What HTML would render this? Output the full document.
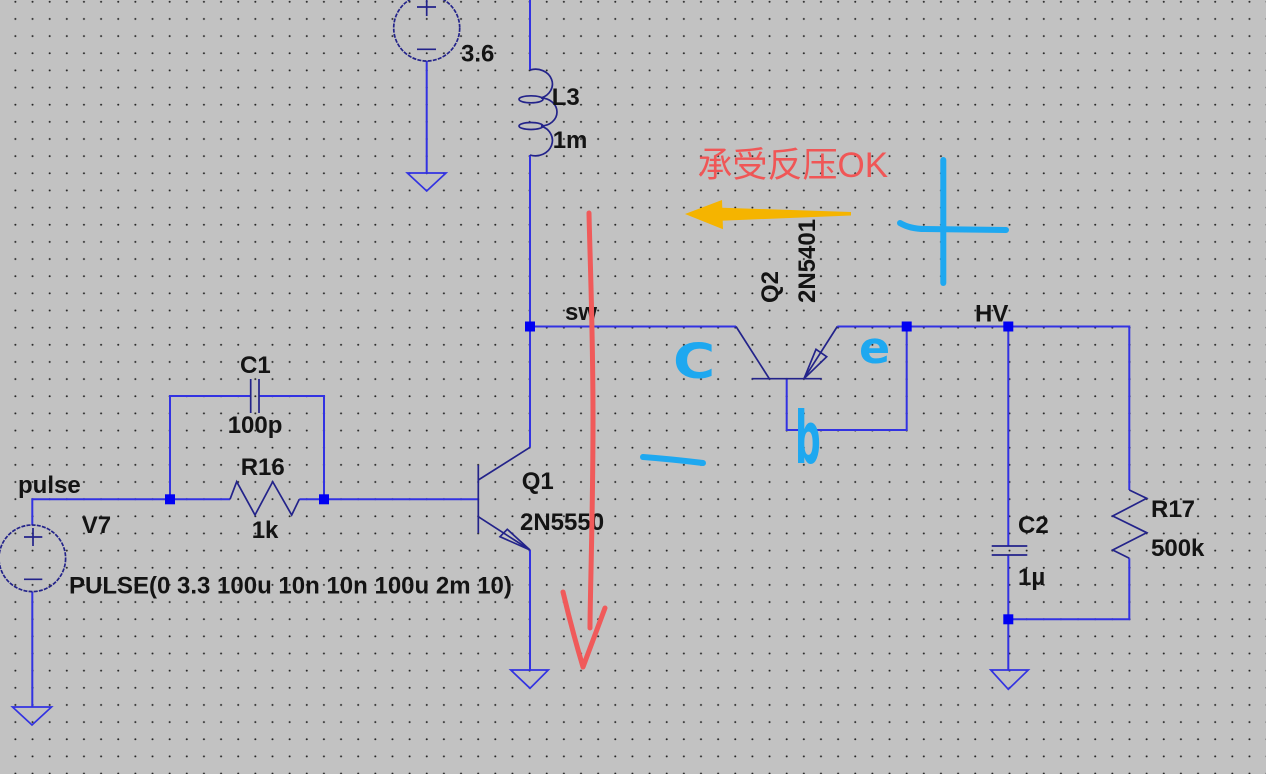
<!DOCTYPE html>
<html>
<head>
<meta charset="utf-8">
<style>
  html,body{margin:0;padding:0;background:#c2c2c2;}
  svg{display:block;}
  .lbl{font-family:"Liberation Sans",Arial,sans-serif;font-weight:bold;font-size:24px;fill:#141414;}
  .w{stroke:#3232e2;stroke-width:2;fill:none;}
  .c{stroke:#23238a;stroke-width:1.7;fill:none;}
  .g{stroke:#3232e2;stroke-width:1.7;fill:none;}
  .hand{font-family:"DejaVu Sans","Liberation Sans",sans-serif;font-weight:bold;fill:#1ea8f0;}
</style>
</head>
<body>
<svg width="1266" height="774" viewBox="0 0 1266 774" xmlns="http://www.w3.org/2000/svg">
  <defs>
    <pattern id="dots" patternUnits="userSpaceOnUse" x="6.83" y="-6.775" width="17.14" height="17.15">
      <circle cx="8.57" cy="8.575" r="1" fill="#262626"/>
    </pattern>
  </defs>
  <rect x="0" y="0" width="1266" height="774" fill="#c2c2c2"/>
  <rect x="0" y="0" width="1266" height="774" fill="url(#dots)"/>

  <!-- ===== Wires ===== -->
  <path class="w" d="M530,0 V70"/>
  <path class="w" d="M530,155 V447.3"/>
  <path class="w" d="M530,326.5 H736"/>
  <path class="w" d="M837.3,326.5 H1129.3 V490"/>
  <path class="w" d="M1129.3,558.3 V619.3 H1008.3"/>
  <path class="w" d="M1008.3,326.5 V546"/>
  <path class="w" d="M1008.3,555 V670"/>
  <path class="w" d="M786.7,378.7 V430 H906.7 V326.5"/>
  <path class="w" d="M530,550 V670"/>
  <path class="w" d="M426.7,61 V173"/>
  <path class="w" d="M32.3,525 V499.3 H230"/>
  <path class="w" d="M299.3,499.3 H478.3"/>
  <path class="w" d="M170,499.3 V396 H250.7"/>
  <path class="w" d="M259,396 H324 V499.3"/>
  <path class="w" d="M32.3,591.7 V707"/>

  <!-- ===== Inductor L3 ===== -->
  <path class="c" d="M530,70 A16,14 0 0 1 541,98 A16,14 0 0 1 541,126 A16,14.5 0 0 1 530,155"/>
  <ellipse class="c" cx="531" cy="99.3" rx="12" ry="3.5"/>
  <ellipse class="c" cx="531" cy="126" rx="12" ry="3.5"/>

  <!-- ===== Voltage source 3.6 ===== -->
  <circle class="c" cx="426.7" cy="28" r="33" stroke-dasharray="4 1.2"/>
  <path class="c" d="M417,7 H436 M426.7,-2 V16"/>
  <path class="c" d="M417,49.3 H436"/>

  <!-- ===== Voltage source V7 ===== -->
  <circle class="c" cx="32.3" cy="558.3" r="33.3" stroke-dasharray="4 1.2"/>
  <path class="c" d="M24,537 H42.3 M33,528 V546"/>
  <path class="c" d="M24,579.3 H42.3"/>

  <!-- ===== Grounds ===== -->
  <path class="g" d="M407.3,173 H446 L426.7,191 Z"/>
  <path class="g" d="M510.7,670 H548.3 L530,688.3 Z"/>
  <path class="g" d="M990.7,670 H1028.3 L1008.3,689.3 Z"/>
  <path class="g" d="M12.5,707 H51.5 L32,725 Z"/>

  <!-- ===== C1 ===== -->
  <path class="c" stroke-width="2" d="M250.7,379 V413 M259,379 V413"/>
  <!-- ===== R16 ===== -->
  <path class="c" d="M230,499.3 L236.7,481.7 L255,515 L272.7,481.7 L291.7,515 L299.3,499.3"/>
  <!-- ===== R17 ===== -->
  <path class="c" d="M1129.3,490 L1146.7,498.3 L1112.7,516 L1146.7,532.7 L1112.7,550 L1129.3,558.3"/>
  <!-- ===== C2 ===== -->
  <path class="c" stroke-width="2" d="M991.7,546 H1027.3 M991.7,555 H1027.3"/>

  <!-- ===== Q1 ===== -->
  <path class="c" stroke-width="2" d="M478.3,465 V533.3"/>
  <path class="c" d="M478.3,480 L530,447.3"/>
  <path class="c" d="M478.3,516.7 L530,550"/>
  <path class="c" d="M530,550 L500,536.7 L507.3,529.3 Z"/>

  <!-- ===== Q2 ===== -->
  <path class="c" d="M736,326.5 L769.3,378.7"/>
  <path class="c" stroke-width="2" d="M751.7,378.7 H821.7"/>
  <path class="c" d="M804,378.7 L837.3,326.5"/>
  <path class="c" d="M804,378.7 L816,349.3 L826.7,356.7 Z"/>

  <!-- ===== Nodes ===== -->
  <g fill="#0000f2">
    <rect x="525" y="321.5" width="10" height="10"/>
    <rect x="901.7" y="321.5" width="10" height="10"/>
    <rect x="1003.3" y="321.5" width="10" height="10"/>
    <rect x="1003.3" y="614.3" width="10" height="10"/>
    <rect x="165" y="494.3" width="10" height="10"/>
    <rect x="319" y="494.3" width="10" height="10"/>
  </g>

  <!-- ===== Labels ===== -->
  <text class="lbl" x="461" y="61.7">3.6</text>
  <text class="lbl" x="551.7" y="105">L3</text>
  <text class="lbl" x="552.7" y="148">1m</text>
  <text class="lbl" x="565" y="320">sw</text>
  <text class="lbl" x="975" y="321.7">HV</text>
  <text class="lbl" x="240" y="373">C1</text>
  <text class="lbl" x="227.7" y="433">100p</text>
  <text class="lbl" x="240.7" y="475">R16</text>
  <text class="lbl" x="18" y="493">pulse</text>
  <text class="lbl" x="81.7" y="533">V7</text>
  <text class="lbl" x="251.7" y="538">1k</text>
  <text class="lbl" x="69" y="593.5">PULSE(0 3.3 100u 10n 10n 100u 2m 10)</text>
  <text class="lbl" x="521.7" y="489">Q1</text>
  <text class="lbl" x="520" y="530">2N5550</text>
  <text class="lbl" x="1018" y="533">C2</text>
  <text class="lbl" x="1018" y="585">1µ</text>
  <text class="lbl" x="1151" y="517">R17</text>
  <text class="lbl" x="1151" y="556">500k</text>
  <text class="lbl" transform="translate(778,303) rotate(-90)">Q2</text>
  <text class="lbl" transform="translate(815,303) rotate(-90)">2N5401</text>

  <!-- ===== Annotations ===== -->
  <text x="697.5" y="177" style="font-family:'Liberation Sans','Noto Sans CJK SC',sans-serif;font-size:35px;font-weight:400;fill:#f05656;">承受反压OK</text>

  <!-- orange arrow -->
  <polygon points="715,207.5 851,212 851,215.5 715,221" fill="#f5b400"/>
  <polygon points="685,214 722,200 723,229.3" fill="#f5b400"/>

  <!-- red arrow -->
  <path d="M589,213 C590,260 593,330 593,420 S590,600 590,628" stroke="#f05a5a" stroke-width="5" fill="none" stroke-linecap="round"/>
  <path d="M563,592 Q572,630 583,667 L605,608" stroke="#f05a5a" stroke-width="5" fill="none" stroke-linecap="round" stroke-linejoin="round"/>

  <!-- blue cross (+) -->
  <path d="M943.3,160 V283" stroke="#1ea8f0" stroke-width="6" fill="none" stroke-linecap="round"/>
  <path d="M900,223 Q910,229 925,229 L1006,230" stroke="#1ea8f0" stroke-width="6" fill="none" stroke-linecap="round"/>
  <!-- blue dash (-) -->
  <path d="M643,457 Q670,459 703,463" stroke="#1ea8f0" stroke-width="6" fill="none" stroke-linecap="round"/>

  <!-- handwritten letters -->
  <text class="hand" font-size="48" transform="translate(673,378) scale(1.2,1)">C</text>
  <text class="hand" font-size="46" transform="translate(859,363) scale(1,0.95)">e</text>
  <text class="hand" font-size="72" transform="translate(795,463) scale(0.5,1)">b</text>
</svg>
</body>
</html>
